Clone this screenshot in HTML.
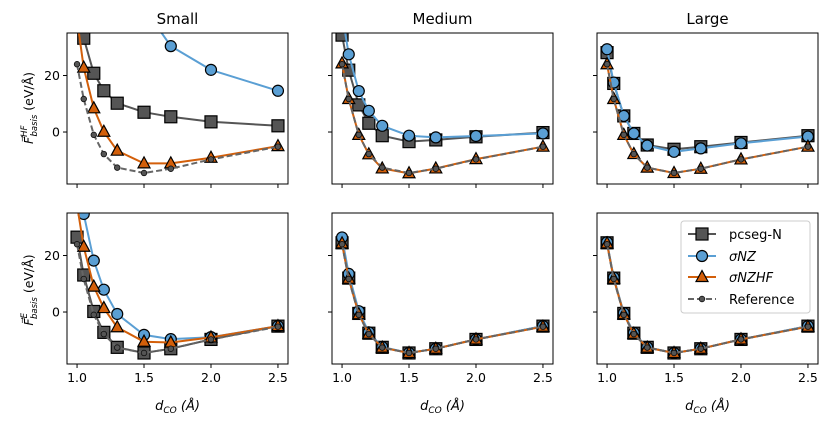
<!DOCTYPE html>
<html><head><meta charset="utf-8">
<style>
html,body{margin:0;padding:0;background:#fff;}
svg{display:block;font-family:"DejaVu Sans","Liberation Sans",sans-serif;}
</style></head>
<body>
<svg id="chart" width="830" height="424" viewBox="0 0 830 424" xmlns="http://www.w3.org/2000/svg"></svg>
<script>
const xs = [1.0, 1.05, 1.125, 1.2, 1.3, 1.5, 1.7, 2.0, 2.5];
const colTitles = ["Small", "Medium", "Large"];
const xTickVals = [1.0, 1.5, 2.0, 2.5];
const xTickLabels = ["1.0", "1.5", "2.0", "2.5"];
const yTickVals = [0, 20];
const yTickLabels = ["0", "20"];
const refVals = [24, 11.7, -1, -7.8, -12.6, -14.5, -13, -9.7, -5.2];
// top row (HF)
const hfSmallPcseg = [45, 33.2, 20.8, 14.6, 10.2, 7, 5.4, 3.6, 2.2];
const hfSmallNZ = [90, 80, 70, 60, 52, 44, 30.4, 22, 14.6];
const hfSmallNZHF = [40, 22.8, 8.4, 0.1, -6.6, -11.1, -11.1, -9.1, -5];
const hfMedPcseg = [34.3, 21.9, 9.6, 3.1, -1.3, -3.4, -2.8, -1.7, -0.2];
const hfMedNZ = [42, 27.5, 14.5, 7.5, 2.2, -1.3, -1.9, -1.4, -0.5];
const hfMedNZHF = [24.3, 11.7, -1, -7.9, -12.9, -14.6, -12.9, -9.6, -5.2];
const hfLargePcseg = [28.1, 17.2, 5.7, -0.5, -4.6, -6.1, -5.2, -3.7, -1.3];
const hfLargeNZ = [29.3, 17.5, 5.7, -0.5, -4.8, -7, -5.8, -4, -1.6];
const hfLargeNZHF = [24, 11.7, -1, -7.8, -12.6, -14.5, -13, -9.7, -5.2];
// bottom row (E)
const eSmallPcseg = [26.5, 13.1, 0.2, -7.2, -12.5, -14.5, -13, -9.7, -5];
const eSmallNZ = [45, 34.7, 18.2, 7.9, -0.7, -8.1, -9.6, -8.9, -5];
const eSmallNZHF = [38, 23.1, 9, 1.4, -5.4, -10.5, -10.8, -9, -5];
const eMedPcseg = [24.5, 12, -0.5, -7.5, -12.5, -14.5, -13, -9.7, -5];
const eMedNZ = [26.4, 13.5, 0.3, -7.2, -12.4, -14.5, -13, -9.7, -5];
const eMedNZHF = [24.3, 11.8, -0.8, -7.7, -12.6, -14.5, -13, -9.7, -5.2];
const eLargePcseg = [24.5, 12, -0.5, -7.5, -12.5, -14.5, -13, -9.7, -5];
const eLargeNZ = [24.7, 12.2, -0.4, -7.4, -12.5, -14.5, -13, -9.7, -5];
const eLargeNZHF = [24.3, 11.8, -0.8, -7.7, -12.6, -14.5, -13, -9.7, -5.2];

const NS = "http://www.w3.org/2000/svg";
const svg = document.getElementById("chart");
function mk(tag, attrs, parent) {
  const e = document.createElementNS(NS, tag);
  for (const k in attrs) e.setAttribute(k, attrs[k]);
  (parent || svg).appendChild(e);
  return e;
}
const panelW = 221, panelLeft = [67, 332, 597], rowTop = [33, 213], panelH = 151;
const xMin = 0.925, xMax = 2.575, yMin = -18.4, yMax = 35.05;
const panels = [
  [[hfSmallPcseg, hfSmallNZ, hfSmallNZHF], [hfMedPcseg, hfMedNZ, hfMedNZHF], [hfLargePcseg, hfLargeNZ, hfLargeNZHF]],
  [[eSmallPcseg, eSmallNZ, eSmallNZHF], [eMedPcseg, eMedNZ, eMedNZHF], [eLargePcseg, eLargeNZ, eLargeNZHF]]
];
const colors = {pc: "#555555", nz: "#5a9fd4", hf: "#d35f0a", ref: "#666666"};

function tri(g, cx, cy, fill) {
  const p = mk("polygon", {points: `${cx},${cy-6.5} ${cx-6},${cy+4.5} ${cx+6},${cy+4.5}`, fill: fill, stroke: "#000", "stroke-width": 1.2}, g);
  return p;
}

for (let r = 0; r < 2; r++) {
  for (let c = 0; c < 3; c++) {
    const L = panelLeft[c], T = rowTop[r];
    const sx = v => L + (v - xMin) / (xMax - xMin) * panelW;
    const sy = v => T + (yMax - v) / (yMax - yMin) * panelH;
    const g = mk("g", {});
    
    
    const cid = `clip${r}${c}`;
    const cp = mk("clipPath", {id: cid}, g);
    mk("rect", {x: L, y: T, width: panelW, height: panelH}, cp);
    const pg = mk("g", {"clip-path": `url(#${cid})`}, g);
    const [pc, nz, hf] = panels[r][c];
    const ptsOf = arr => arr.map((v, i) => `${sx(xs[i]).toFixed(1)},${sy(v).toFixed(1)}`).join(" ");
    // pcseg-N
    const l1 = mk("polyline", {points: ptsOf(pc), fill: "none", stroke: colors.pc, "stroke-width": 2}, pg);
    
    
    pc.forEach((v, i) => {
      const m = mk("rect", {x: sx(xs[i]) - 6, y: sy(v) - 6, width: 12, height: 12, fill: colors.pc, stroke: "#000", "stroke-width": 1.2}, pg);
      
      
    });
    // sigma NZ
    const l2 = mk("polyline", {points: ptsOf(nz), fill: "none", stroke: colors.nz, "stroke-width": 2}, pg);
    
    
    nz.forEach((v, i) => {
      const m = mk("circle", {cx: sx(xs[i]), cy: sy(v), r: 5.5, fill: colors.nz, stroke: "#000", "stroke-width": 1.2}, pg);
      
      
    });
    // sigma NZHF
    const l3 = mk("polyline", {points: ptsOf(hf), fill: "none", stroke: colors.hf, "stroke-width": 2}, pg);
    
    
    hf.forEach((v, i) => {
      const m = tri(pg, sx(xs[i]), sy(v), colors.hf);
      
      
    });
    // reference
    const l4 = mk("polyline", {points: ptsOf(refVals), fill: "none", stroke: colors.ref, "stroke-width": 2, "stroke-dasharray": "6,3"}, pg);
    
    
    refVals.forEach((v, i) => {
      const m = mk("circle", {cx: sx(xs[i]), cy: sy(v), r: 2.8, fill: "#555", stroke: "#111", "stroke-width": 0.8}, pg);
      
      
    });
    // frame
    mk("rect", {x: L, y: T, width: panelW, height: panelH, fill: "none", stroke: "#000", "stroke-width": 1}, g);
    // ticks
    xTickVals.forEach((v, i) => {
      mk("line", {x1: sx(v), x2: sx(v), y1: T + panelH, y2: T + panelH + 4, stroke: "#000", "stroke-width": 1}, g);
      if (r === 1) {
        const t = mk("text", {x: sx(v), y: T + panelH + 18, "text-anchor": "middle", "font-size": 12.5, fill: "#000"}, g);
        t.textContent = xTickLabels[i];
        
        
      }
    });
    yTickVals.forEach((v, i) => {
      mk("line", {x1: L - 4, x2: L, y1: sy(v), y2: sy(v), stroke: "#000", "stroke-width": 1}, g);
      if (c === 0) {
        const t = mk("text", {x: L - 7, y: sy(v) + 4.5, "text-anchor": "end", "font-size": 12.5, fill: "#000"}, g);
        t.textContent = yTickLabels[i];
        
        
      }
    });
    if (r === 0) {
      const t = mk("text", {x: L + panelW / 2, y: 24, "text-anchor": "middle", "font-size": 15, fill: "#000"}, g);
      t.textContent = colTitles[c];
      
      
    } else {
      const t = mk("text", {x: L + panelW / 2, y: 410, "text-anchor": "middle", "font-size": 13, "font-style": "italic", fill: "#000"}, g);
      t.innerHTML = 'd<tspan font-size="9" dy="3">CO</tspan><tspan dy="-3"> (Å)</tspan>';
      
      
    }
  }
}
// y axis titles
[["HF", 108], ["E", 290]].forEach(([sup, cy]) => {
  const t = mk("text", {x: 0, y: 0, "text-anchor": "middle", "font-size": 12.5, fill: "#000", transform: `translate(33,${cy}) rotate(-90)`});
  t.innerHTML = `<tspan font-style="italic">F⃗</tspan><tspan font-style="italic" font-size="8.5" dy="-6">${sup}</tspan><tspan font-style="italic" font-size="8.5" dx="-${sup === 'HF' ? 11 : 6}" dy="10">basis</tspan><tspan dy="-4"> (eV/Å)</tspan>`;
  
  
});
// legend
const lg = mk("g", {});


mk("rect", {x: 681, y: 221, width: 129, height: 92, rx: 3, fill: "#fff", "fill-opacity": 0.85, stroke: "#ccc", "stroke-width": 1}, lg);
const legNames = ["pcseg-N", "σNZ", "σNZHF", "Reference"];
const legY = [234, 256, 277, 299];
legNames.forEach((name, i) => {
  const y = legY[i];
  const e = mk("g", {}, lg);
  
  
  const col = [colors.pc, colors.nz, colors.hf, colors.ref][i];
  mk("line", {x1: 688, x2: 716, y1: y, y2: y, stroke: col, "stroke-width": 2, "stroke-dasharray": i === 3 ? "6,3" : "none"}, e);
  if (i === 0) mk("rect", {x: 696, y: y - 6, width: 12, height: 12, fill: colors.pc, stroke: "#000", "stroke-width": 1.2}, e);
  if (i === 1) mk("circle", {cx: 702, cy: y, r: 5.5, fill: colors.nz, stroke: "#000", "stroke-width": 1.2}, e);
  if (i === 2) tri(e, 702, y, colors.hf);
  if (i === 3) mk("circle", {cx: 702, cy: y, r: 2.8, fill: "#555", stroke: "#111", "stroke-width": 0.8}, e);
  const t = mk("text", {x: 729, y: y + 5, "font-size": 13, fill: "#000", "font-style": (i === 1 || i === 2) ? "italic" : "normal"}, e);
  t.textContent = name;
});
</script>
</body></html>
